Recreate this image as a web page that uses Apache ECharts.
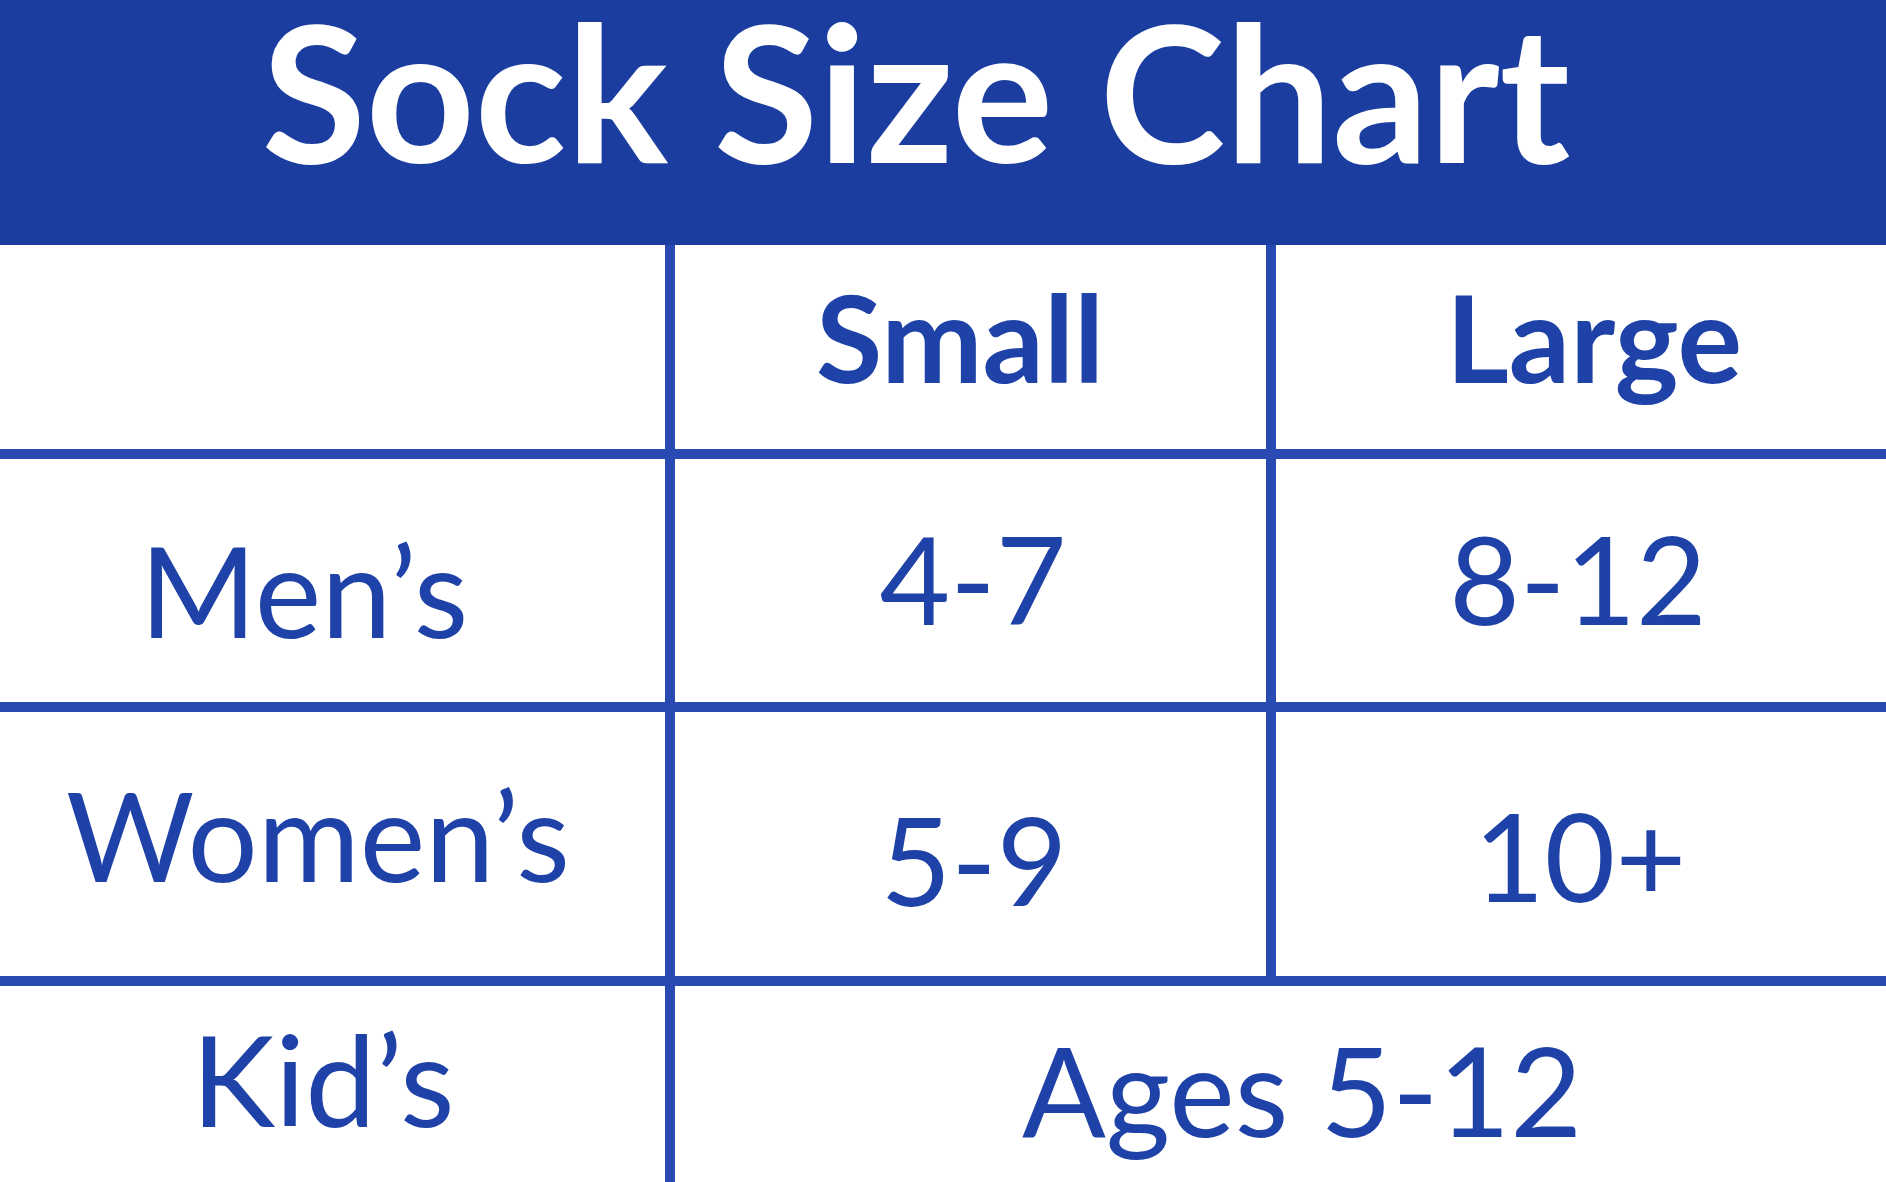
<!DOCTYPE html>
<html>
<head>
<meta charset="utf-8">
<style>html,body{margin:0;padding:0;background:#fff}#c{width:1886px;height:1182px}</style>
<script src="https://cdn.jsdelivr.net/npm/echarts@6/dist/echarts.min.js"></script>
</head>
<body>
<div id="c"></div>
<script>
// ---- data ----
const chartTitle = "Sock Size Chart";
const sizeColumns = ["Small", "Large"];
const groups = ["Men’s", "Women’s", "Kid’s"];
const smallSizes = ["4-7", "5-9"];
const largeSizes = ["8-12", "10+"];
const kidsSizes = ["Ages 5-12"];

// ---- layout (canvas-pixel coordinates on value axes) ----
const W = 1886, H = 1182;
const headerBottom = 245;
const colEdges = [670, 1271];
const rowEdges = [454, 707, 981];
const BLUE = "#1b3d9f", LINE = "#2a4ab3", TEXT = "#1f42a8";
const lineW = 10;

// text anchors: [x, capCenterY, fontSize, weight]
const textLayout = {
  title: [916, 94, 190, 'bold'],
  head: [[960, 339, 121, 'bold'], [1594, 339, 121, 'bold']],
  groups: [[304, 592, 126], [318, 837, 124], [323, 1081, 126]],
  small: [[973, 581, 122], [974, 862, 122]],
  large: [[1578, 581, 122], [1580, 858, 122]],
  kids: [[1302, 1092, 124]]
};

const cells = [];
cells.push({text: chartTitle, l: textLayout.title, color: '#fff'});
sizeColumns.forEach((t, i) => cells.push({text: t, l: textLayout.head[i], color: TEXT}));
groups.forEach((t, i) => cells.push({text: t, l: textLayout.groups[i], color: TEXT}));
smallSizes.forEach((t, i) => cells.push({text: t, l: textLayout.small[i], color: TEXT}));
largeSizes.forEach((t, i) => cells.push({text: t, l: textLayout.large[i], color: TEXT}));
kidsSizes.forEach((t, i) => cells.push({text: t, l: textLayout.kids[i], color: TEXT}));

// grid lines: [x1,y1,x2,y2]
const rules = [
  [0, rowEdges[0], W, rowEdges[0]],
  [0, rowEdges[1], W, rowEdges[1]],
  [0, rowEdges[2], W, rowEdges[2]],
  [colEdges[0], headerBottom, colEdges[0], H],
  [colEdges[1], headerBottom, colEdges[1], rowEdges[2]]
];

const chart = echarts.init(document.getElementById('c'), null, {renderer: 'canvas'});
const CAP = 0.72; // approx cap height ratio
const TOPPAD = 0.1; // gap between text-box top and cap top
chart.setOption({
  animation: false,
  backgroundColor: '#fff',
  grid: {left: 0, right: 0, top: 0, bottom: 0},
  xAxis: {type: 'value', min: 0, max: W, show: false},
  yAxis: {type: 'value', min: 0, max: H, inverse: true, show: false},
  series: [
    {
      type: 'custom',
      data: [[0, 0, W, headerBottom]],
      renderItem: (params, api) => {
        const p0 = api.coord([api.value(0), api.value(1)]);
        const p1 = api.coord([api.value(2), api.value(3)]);
        return {type: 'rect', shape: {x: p0[0], y: p0[1], width: p1[0] - p0[0], height: p1[1] - p0[1]}, style: {fill: BLUE}};
      }
    },
    {
      type: 'custom',
      data: rules,
      renderItem: (params, api) => {
        const p0 = api.coord([api.value(0), api.value(1)]);
        const p1 = api.coord([api.value(2), api.value(3)]);
        return {type: 'line', shape: {x1: p0[0], y1: p0[1], x2: p1[0], y2: p1[1]}, style: {stroke: LINE, lineWidth: lineW}};
      }
    },
    {
      type: 'custom',
      data: cells.map(c => [c.l[0], c.l[1]]),
      renderItem: (params, api) => {
        const c = cells[params.dataIndex];
        const p = api.coord([api.value(0), api.value(1)]);
        const fs = c.l[2];
        return {
          type: 'text',
          x: p[0], y: p[1] - fs * CAP / 2 - fs * TOPPAD,
          style: {
            text: c.text, fill: c.color,
            font: (c.l[3] || 'normal') + ' ' + fs + 'px Lato',
            textAlign: 'center', textVerticalAlign: 'top'
          }
        };
      }
    }
  ]
});
</script>
</body>
</html>
